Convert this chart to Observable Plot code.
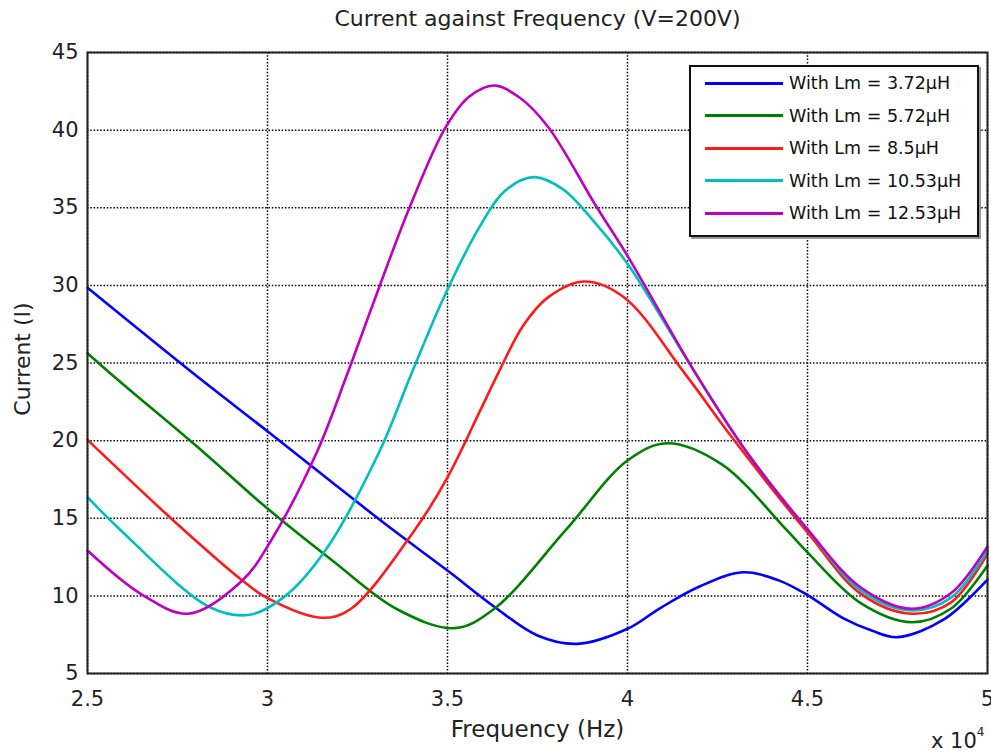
<!DOCTYPE html>
<html><head><meta charset="utf-8">
<script src="https://cdn.jsdelivr.net/npm/d3@7"></script>
<script src="https://cdn.jsdelivr.net/npm/@observablehq/plot@0.6"></script>
<style>
body{margin:0;background:#fff;font-family:"DejaVu Sans",sans-serif;}
#wrap{position:relative;width:991px;height:756px;overflow:hidden;}
#legend{position:absolute;left:689px;top:65px;width:286px;height:168px;border:2px solid #111;background:#fff;box-shadow:2px 2px 0 #999;}
.row{position:absolute;left:14px;height:20px;display:flex;align-items:center;font-size:17.5px;color:#111;white-space:nowrap;}
.sw{width:78px;height:0;border-top:3px solid;margin-right:6px;}
#exp{position:absolute;left:931px;top:730px;font-size:21px;color:#222;line-height:22px;}
#exp sup{font-size:12px;line-height:0;vertical-align:12px;}
</style></head>
<body><div id="wrap"><div id="chart"></div><div id="legend"></div><div id="exp">x 10<sup>4</sup></div></div>
<script>
// Frequency in units of 10^4 Hz, current in A
const seriesNames = ["With Lm = 3.72µH","With Lm = 5.72µH","With Lm = 8.5µH","With Lm = 10.53µH","With Lm = 12.53µH"];
const seriesColors = ["#0000ff","#008000","#ff1a1a","#00bfbf","#bf00bf"];

const freqBlue = [2.5, 2.79, 3.0, 3.18, 3.34, 3.5, 3.63, 3.75, 3.86, 4.0, 4.09, 4.2, 4.32, 4.42, 4.5, 4.6, 4.68, 4.75, 4.88, 5.0];
const currBlue = [29.84, 24.4, 20.6, 17.3, 14.4, 11.63, 9.3, 7.45, 6.91, 7.88, 9.2, 10.6, 11.52, 11.0, 10.05, 8.55, 7.75, 7.34, 8.5, 11.05];

const freqGreen = [2.5, 2.58, 2.82, 2.99, 3.18, 3.36, 3.52, 3.63, 3.83, 4.0, 4.11, 4.26, 4.44, 4.5, 4.65, 4.79, 4.9, 5.0];
const currGreen = [25.63, 24.0, 19.3, 15.82, 12.28, 9.14, 7.92, 9.17, 14.28, 18.72, 19.83, 18.5, 14.3, 12.8, 9.5, 8.3, 9.2, 11.96];

const freqRed = [2.5, 2.76, 2.93, 3.0, 3.15, 3.23, 3.41, 3.5, 3.59, 3.64, 3.71, 3.78, 3.88, 3.99, 4.16, 4.29, 4.5, 4.65, 4.79, 4.9, 5.0];
const currRed = [20.05, 14.4, 10.99, 9.85, 8.59, 9.14, 14.28, 17.64, 21.9, 24.3, 27.4, 29.24, 30.25, 29.24, 24.3, 20.22, 14.08, 10.1, 8.85, 9.6, 12.73];

const freqCyan = [2.5, 2.59, 2.84, 2.95, 3.05, 3.16, 3.31, 3.4, 3.49, 3.59, 3.66, 3.74, 3.82, 3.9, 4.0, 4.05, 4.19, 4.33, 4.5, 4.65, 4.79, 4.9, 5.0];
const currCyan = [16.36, 14.28, 9.27, 8.78, 10.0, 12.9, 19.25, 24.32, 29.24, 33.8, 36.1, 36.97, 36.2, 34.3, 31.4, 29.6, 24.3, 19.3, 14.28, 10.3, 9.06, 9.9, 12.92];

const freqMagenta = [2.5, 2.65, 2.78, 2.93, 3.01, 3.137, 3.222, 3.3, 3.398, 3.495, 3.56, 3.63, 3.7, 3.78, 3.91, 4.0, 4.06, 4.19, 4.33, 4.5, 4.65, 4.79, 4.9, 5.0];
const currMagenta = [12.92, 10.1, 8.85, 10.99, 13.57, 19.25, 24.32, 29.24, 35.21, 40.19, 42.15, 42.87, 42.1, 40.19, 35.21, 31.9, 29.5, 24.3, 19.3, 14.28, 10.5, 9.17, 10.2, 13.18];

const xTicks = [2.5, 3, 3.5, 4, 4.5, 5];
const yTicks = [5, 10, 15, 20, 25, 30, 35, 40, 45];

const freqs = [freqBlue, freqGreen, freqRed, freqCyan, freqMagenta];
const currs = [currBlue, currGreen, currRed, currCyan, currMagenta];
const data = [];
seriesNames.forEach((name, i) => {
  freqs[i].forEach((f, j) => data.push({f, I: currs[i][j], s: name}));
});

const font = "DejaVu Sans, sans-serif";
const chart = Plot.plot({
  width: 991, height: 756,
  marginLeft: 87, marginRight: 4, marginTop: 52, marginBottom: 83,
  style: {fontFamily: font, fontSize: "21px", color: "#222", background: "#fff"},
  x: {domain: [2.5, 5], ticks: xTicks, tickFormat: d => String(d), tickSize: 0, tickPadding: 18, label: null},
  y: {domain: [5, 45], ticks: yTicks, tickFormat: d => String(d), tickSize: 0, tickPadding: 9, label: null},
  color: {domain: seriesNames, range: seriesColors},
  marks: [
    Plot.gridX(xTicks, {stroke: "#000", strokeOpacity: 1, strokeWidth: 1.5, strokeDasharray: "1.5,1.8"}),
    Plot.gridY(yTicks, {stroke: "#000", strokeOpacity: 1, strokeWidth: 1.5, strokeDasharray: "1.5,1.8"}),
    Plot.line(data, {x: "f", y: "I", z: "s", stroke: "s", strokeWidth: 2.6, curve: "catmull-rom"}),
    Plot.frame({stroke: "#222", strokeWidth: 2}),
    Plot.text(["Current against Frequency (V=200V)"], {frameAnchor: "top", lineAnchor: "middle", dy: -34, fontSize: 22, fill: "#222"}),
    Plot.text(["Frequency (Hz)"], {frameAnchor: "bottom", lineAnchor: "middle", dy: 56, fontSize: 23, fill: "#222"}),
    Plot.text(["Current (I)"], {frameAnchor: "left", textAnchor: "middle", rotate: -90, dx: -65, dy: -4, fontSize: 22, fill: "#222"})
  ]
});
document.getElementById("chart").appendChild(chart);

const legend = document.getElementById("legend");
seriesNames.forEach((name, i) => {
  const row = document.createElement("div");
  row.className = "row";
  row.style.top = (6 + i * 32.6) + "px";
  const sw = document.createElement("div");
  sw.className = "sw";
  sw.style.borderTopColor = seriesColors[i];
  const t = document.createElement("span");
  t.textContent = name;
  row.appendChild(sw); row.appendChild(t);
  legend.appendChild(row);
});
</script></body></html>
